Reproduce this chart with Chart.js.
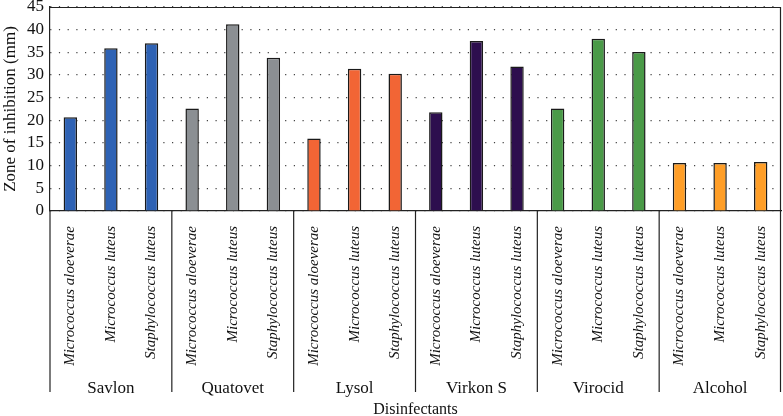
<!DOCTYPE html>
<html>
<head>
<meta charset="utf-8">
<script src="https://cdn.jsdelivr.net/npm/chart.js@4.4.0/dist/chart.umd.min.js"></script>
<style>
  html, body { margin: 0; padding: 0; background: #fff; }
  #wrap { width: 783px; height: 416px; }
</style>
</head>
<body>
<div id="wrap"><canvas id="c" width="783" height="416"></canvas></div>
<script>
// ---- data ----
const organisms = ['Micrococcus aloeverae', 'Micrococcus luteus', 'Staphylococcus luteus'];
const disinfectants = ['Savlon', 'Quatovet', 'Lysol', 'Virkon S', 'Virocid', 'Alcohol'];
const savlon   = [20.7, 35.9, 37.0];
const quatovet = [22.6, 41.2, 33.8];
const lysol    = [16.0, 31.4, 30.3];
const virkonS  = [21.8, 37.5, 31.9];
const virocid  = [22.6, 38.0, 35.1];
const alcohol  = [10.6, 10.6, 10.8];
const groupColors = ['#2E62B4', '#8B8F93', '#F26535', '#2D0E4E', '#4A9A48', '#FF9E27'];
const yTicks = [0, 5, 10, 15, 20, 25, 30, 35, 40, 45];

const groupValues = [savlon, quatovet, lysol, virkonS, virocid, alcohol];
const labels = [];
const values = [];
const colors = [];
groupValues.forEach((g, gi) => {
  g.forEach((v, oi) => {
    labels.push(organisms[oi]);
    values.push(v);
    colors.push(groupColors[gi]);
  });
});

const SERIF = '"Liberation Serif"';
Chart.defaults.font.family = SERIF;

const groupPlugin = {
  id: 'groups',
  afterDraw(chart) {
    const ctx = chart.ctx;
    const xs = chart.scales.x;
    const ca = chart.chartArea;
    const sepBottom = ca.bottom + 181;
    ctx.save();
    ctx.strokeStyle = '#222';
    ctx.lineWidth = 1.2;
    // frame top & right
    ctx.beginPath();
    ctx.moveTo(ca.left, ca.top + 0.5);
    ctx.lineTo(ca.right - 0.5, ca.top + 0.5);
    ctx.lineTo(ca.right - 0.5, ca.bottom);
    ctx.stroke();
    // separators
    const n = disinfectants.length;
    for (let g = 0; g <= n; g++) {
      let x;
      if (g === 0) x = xs.left;
      else if (g === n) x = xs.right - 0.5;
      else x = (xs.getPixelForValue(g * 3 - 1) + xs.getPixelForValue(g * 3)) / 2;
      ctx.beginPath();
      ctx.moveTo(x, ca.bottom);
      ctx.lineTo(x, sepBottom);
      ctx.stroke();
    }
    // group labels
    ctx.fillStyle = '#111';
    ctx.font = '17px ' + SERIF;
    ctx.textAlign = 'center';
    ctx.textBaseline = 'middle';
    for (let g = 0; g < n; g++) {
      const cx = xs.getPixelForValue(g * 3 + 1);
      ctx.fillText(disinfectants[g], cx, ca.bottom + 178);
    }
    ctx.restore();
  }
};

new Chart(document.getElementById('c'), {
  type: 'bar',
  data: {
    labels: labels,
    datasets: [{
      data: values,
      backgroundColor: colors,
      borderColor: '#1a1a1a',
      borderWidth: 1.5,
      borderSkipped: 'bottom',
      barPercentage: 0.33,
      categoryPercentage: 1.0
    }]
  },
  options: {
    responsive: false,
    animation: false,
    devicePixelRatio: 1,
    layout: { padding: { top: 7, right: 2, left: 0, bottom: 0 } },
    plugins: {
      legend: { display: false },
      tooltip: { enabled: false }
    },
    scales: {
      x: {
        afterFit(s) { s.height = 205; s.paddingLeft = 0; s.paddingRight = 0; },
        grid: { display: false },
        border: { display: true, color: '#222', width: 1.2 },
        ticks: {
          color: '#111',
          minRotation: 90,
          maxRotation: 90,
          autoSkip: false,
          padding: 7,
          font: { family: SERIF, size: 15, style: 'italic' }
        },
        title: {
          display: true,
          text: 'Disinfectants',
          color: '#111',
          font: { family: SERIF, size: 16, lineHeight: 1 },
          padding: { top: 0, bottom: -2 }
        }
      },
      y: {
        min: 0,
        max: 45,
        afterFit(s) { s.width = 50; s.paddingTop = 0; s.paddingBottom = 0; },
        afterBuildTicks(scale) { scale.ticks = yTicks.map(v => ({ value: v })); },
        grid: { color: '#444', lineWidth: 1.2, drawTicks: false },
        border: { display: true, color: '#222', width: 1.2, dash: [1.2, 7.5] },
        ticks: {
          color: '#111',
          autoSkip: false,
          padding: 6,
          font: { family: SERIF, size: 17, lineHeight: 1 }
        },
        title: {
          display: true,
          text: 'Zone of inhibition (mm)',
          color: '#111',
          font: { family: SERIF, size: 17 },
          padding: { top: 0, bottom: 0 }
        }
      }
    }
  },
  plugins: [groupPlugin]
});
</script>
</body>
</html>
